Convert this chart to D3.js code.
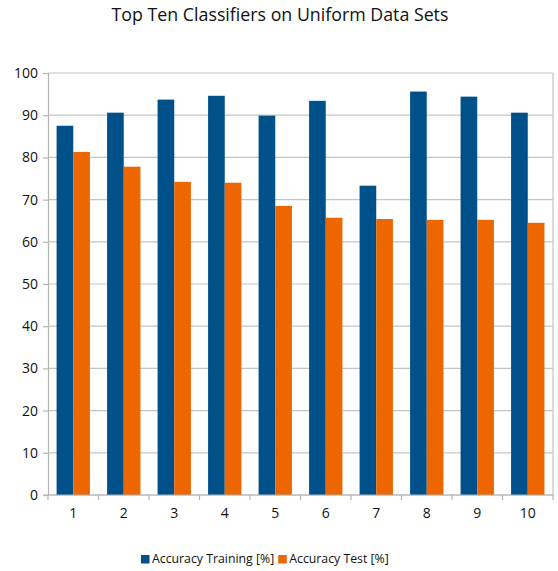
<!DOCTYPE html>
<html>
<head>
<meta charset="utf-8">
<script src="https://cdn.jsdelivr.net/npm/d3@7"></script>
<style>
  html, body { margin: 0; padding: 0; background: #fff; }
  svg { display: block; font-family: "Open Sans", "DejaVu Sans", sans-serif; }
</style>
</head>
<body>
<svg id="chart" width="558" height="571"></svg>
<script>
// Classifier ranks and their accuracies
const categories = ["1", "2", "3", "4", "5", "6", "7", "8", "9", "10"];
const accuracyTraining = [87.5, 90.6, 93.7, 94.6, 89.9, 93.4, 73.3, 95.6, 94.4, 90.6];
const accuracyTest = [81.3, 77.8, 74.2, 74.0, 68.5, 65.7, 65.4, 65.2, 65.2, 64.5];
const seriesNames = ["Accuracy Training [%]", "Accuracy Test [%]"];
const seriesColors = ["#00508a", "#ee6600"];
const yTicks = [0, 10, 20, 30, 40, 50, 60, 70, 80, 90, 100];

const svg = d3.select("#chart");
const margin = { left: 48, right: 5, top: 73, bottom: 76 };
const W = 558, H = 571;
const plotW = W - margin.left - margin.right;
const plotH = H - margin.top - margin.bottom;

const x = d3.scaleBand().domain(categories).range([0, plotW]).paddingInner(0.34).paddingOuter(0.17);
const xs = d3.scaleBand().domain([0, 1]).range([0, x.bandwidth()]);
const y = d3.scaleLinear().domain([0, 100]).range([plotH, 0]);

const g = svg.append("g").attr("transform", `translate(${margin.left},${margin.top})`);

// Title
svg.append("text")
  .attr("x", 280).attr("y", 21)
  .attr("text-anchor", "middle")
  .attr("font-size", 17.8)
  .attr("fill", "#111")
  .text("Top Ten Classifiers on Uniform Data Sets");

// Horizontal grid lines
g.append("g").selectAll("line").data(yTicks).join("line")
  .attr("x1", 0).attr("x2", plotW)
  .attr("y1", d => y(d)).attr("y2", d => y(d))
  .attr("stroke", "#c4c4c4").attr("stroke-width", 1.2);

// Right border of the plot area
g.append("line")
  .attr("x1", plotW).attr("x2", plotW).attr("y1", 0).attr("y2", plotH)
  .attr("stroke", "#c4c4c4").attr("stroke-width", 1.2);

// Bars
const seriesData = [accuracyTraining, accuracyTest];
seriesData.forEach((vals, si) => {
  g.append("g").selectAll("rect").data(vals).join("rect")
    .attr("x", (d, i) => x(categories[i]) + xs(si))
    .attr("width", xs.bandwidth())
    .attr("y", d => y(d))
    .attr("height", d => y(0) - y(d))
    .attr("fill", seriesColors[si]);
});

// Y axis
const yAxis = g.append("g")
  .call(d3.axisLeft(y).tickValues(yTicks).tickSize(5).tickPadding(5).tickFormat(d3.format("d")));
yAxis.select(".domain").attr("stroke", "#b4b4b4").attr("stroke-width", 1.2);
yAxis.selectAll(".tick line").attr("stroke", "#b4b4b4").attr("stroke-width", 1.2);
yAxis.selectAll("text").attr("font-size", 14).attr("fill", "#111")
  .attr("font-family", "'Open Sans', 'DejaVu Sans', sans-serif");

// X axis with ticks between categories
const xAxisG = g.append("g").attr("transform", `translate(0,${plotH})`);
xAxisG.append("line")
  .attr("x1", -5).attr("x2", plotW).attr("y1", 0).attr("y2", 0)
  .attr("stroke", "#b4b4b4").attr("stroke-width", 1.2);
const bounds = d3.range(categories.length + 1).map(i => i * plotW / categories.length);
xAxisG.selectAll("line.sep").data(bounds).join("line").attr("class", "sep")
  .attr("x1", d => d).attr("x2", d => d).attr("y1", 0).attr("y2", 5)
  .attr("stroke", "#b4b4b4").attr("stroke-width", 1.2);
xAxisG.selectAll("text").data(categories).join("text")
  .attr("x", d => x(d) + x.bandwidth() / 2)
  .attr("y", 23)
  .attr("text-anchor", "middle")
  .attr("font-size", 14).attr("fill", "#111")
  .text(d => d);

// Legend
const legend = svg.append("g");
const items = legend.selectAll("g").data(seriesNames).join("g");
items.append("rect").attr("width", 8.5).attr("height", 8.5).attr("y", -8)
  .attr("fill", (d, i) => seriesColors[i]);
items.append("text").attr("x", 11).attr("y", 0)
  .attr("font-size", 12.3).attr("fill", "#111").text(d => d);
let offset = 0;
items.each(function() {
  d3.select(this).attr("transform", `translate(${offset},0)`);
  offset += this.getBBox().width + 4;
});
legend.attr("transform", "translate(141,563)");
</script>
</body>
</html>
